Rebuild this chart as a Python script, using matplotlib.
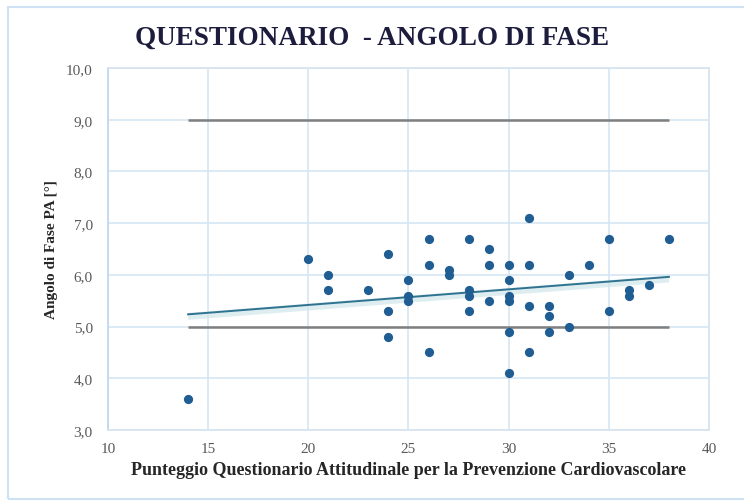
import numpy as np
import matplotlib
matplotlib.use("Agg")
import matplotlib.pyplot as plt
from matplotlib.patches import Rectangle

# Questionnaire score vs. phase angle, one entry per subject
punteggio = [14, 20, 21, 21, 23, 24, 24, 24, 25, 25, 25, 26, 26, 26, 27, 27,
             28, 28, 28, 28, 29, 29, 29, 30, 30, 30, 30, 30, 30, 31, 31, 31, 31,
             32, 32, 32, 33, 33, 34, 35, 35, 36, 36, 37, 38]
angolo = [3.6, 6.3, 6.0, 5.7, 5.7, 6.4, 5.3, 4.8, 5.9, 5.6, 5.5, 6.7, 6.2, 4.5,
          6.1, 6.0, 6.7, 5.7, 5.6, 5.3, 6.5, 6.2, 5.5, 6.2, 5.9, 5.6, 5.5, 4.9,
          4.1, 7.1, 6.2, 5.4, 4.5, 5.4, 5.2, 4.9, 6.0, 5.0, 6.2, 6.7, 5.3, 5.7,
          5.6, 5.8, 6.7]

# Normal range limits for the phase angle
limiti = [5.0, 9.0]

x_ticks = [10, 15, 20, 25, 30, 35, 40]
y_ticks = [3.0, 4.0, 5.0, 6.0, 7.0, 8.0, 9.0, 10.0]

serif = ["Liberation Serif", "DejaVu Serif"]

fig = plt.figure(figsize=(7.44, 5.02), dpi=100)
fig.patch.set_facecolor("white")
fig.patches.append(Rectangle((8 / 744, 2 / 502), 1.0, 492 / 502,
                             transform=fig.transFigure, fill=False,
                             edgecolor="#cfe2f3", linewidth=1.5))

ax = fig.add_axes([108 / 744, 71 / 502, 601 / 744, 362 / 502])
ax.set_xlim(10, 40)
ax.set_ylim(3.0, 10.0)
ax.set_xticks(x_ticks)
ax.set_yticks(y_ticks)
ax.set_xticklabels([str(t) for t in x_ticks], family=serif, fontsize=11,
                   color="#595959")
ax.set_yticklabels([f"{t:.1f}".replace(".", ",") for t in y_ticks],
                   family=serif, fontsize=11, color="#595959")
ax.tick_params(axis="x", length=0, pad=9)
ax.tick_params(axis="y", length=0, pad=11)
ax.grid(True, color="#d6e6f5", linewidth=1.2)
ax.set_axisbelow(True)
for s in ax.spines.values():
    s.set_color("#d6e3ef")
    s.set_linewidth(1.2)
ax.spines["left"].set_color("#bcd5ec")

# limit lines across the observed score range
xmin, xmax = min(punteggio), max(punteggio)
ax.hlines(limiti, xmin, xmax, colors="#7f7f7f", linewidth=1.8, zorder=2)

# least-squares trend line
coef = np.polyfit(punteggio, angolo, 1)
xs = np.array([xmin, xmax])
ys = np.polyval(coef, xs)
ax.plot(xs, ys - 0.04, color="#cfe6ea", linewidth=5, alpha=0.7, zorder=2,
        solid_capstyle="butt")
ax.plot(xs, ys, color="#2f7390", linewidth=1.4, zorder=3)

ax.scatter(punteggio, angolo, s=44, color="#1f5d93", zorder=4, linewidths=0)

fig.text(372 / 744, 1 - 38 / 502, "QUESTIONARIO  - ANGOLO DI FASE",
         ha="center", va="center", family=serif, fontsize=19.5,
         fontweight="bold", color="#1c1c3c")
ax.set_xlabel("Punteggio Questionario Attitudinale per la Prevenzione Cardiovascolare",
              family=serif, fontsize=13, fontweight="bold", color="#262626",
              labelpad=4)
ax.set_ylabel("Angolo di Fase PA [°]", family=serif, fontsize=11,
              fontweight="bold", color="#262626", labelpad=6)

fig.savefig("out.png", dpi=100, facecolor=fig.get_facecolor())
